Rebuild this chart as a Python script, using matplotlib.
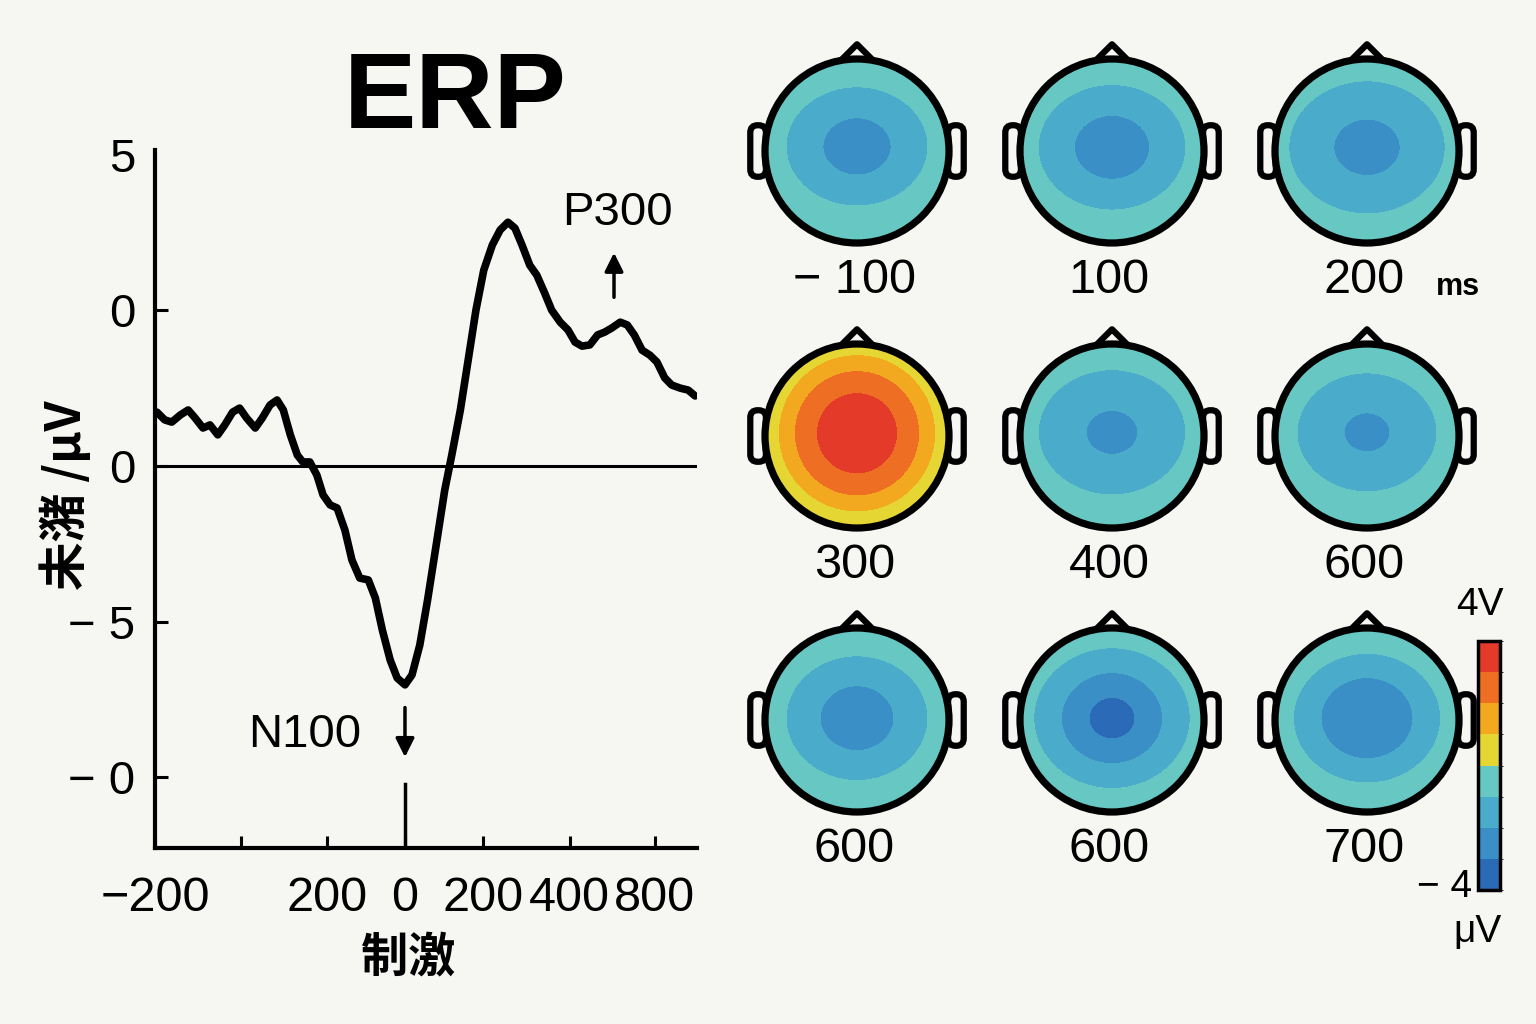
import matplotlib
matplotlib.use('Agg')
import matplotlib.pyplot as plt
import numpy as np
from matplotlib.colors import ListedColormap, BoundaryNorm
from matplotlib.patches import Circle, Polygon, FancyBboxPatch
from matplotlib.cm import ScalarMappable

# ERP waveform (ms, uV)
erp_ms = [-318, -308, -299, -288, -278, -269, -259, -250, -240, -231, -221, -212,
          -203, -192, -183, -173, -164, -156, -147, -138, -131, -122, -113, -105,
          -96, -87, -77, -68, -58, -47, -38, -29, -19, -10, 0, 9, 19, 29, 40, 51,
          60, 71, 81, 91, 101, 112, 122, 132, 141, 150, 160, 169, 179, 188, 199,
          209, 218, 227, 237, 247, 256, 265, 276, 285, 294, 304, 314, 323, 333,
          342, 353, 363, 372]
erp_uv = [1.73, 1.48, 1.41, 1.64, 1.80, 1.54, 1.22, 1.32, 1.00, 1.32, 1.73, 1.86,
          1.54, 1.22, 1.54, 1.96, 2.12, 1.80, 1.00, 0.35, 0.13, 0.13, -0.29, -0.93,
          -1.25, -1.35, -2.06, -3.02, -3.60, -3.66, -4.24, -5.27, -6.23, -6.81,
          -7.03, -6.71, -5.75, -4.30, -2.54, -0.77, 0.35, 1.80, 3.40, 5.01, 6.29,
          7.10, 7.58, 7.83, 7.64, 7.10, 6.45, 6.13, 5.56, 5.01, 4.62, 4.37, 3.98,
          3.85, 3.89, 4.21, 4.30, 4.43, 4.62, 4.53, 4.21, 3.72, 3.56, 3.34, 2.83,
          2.60, 2.50, 2.44, 2.25]

x_tick_pos = [-320, -210, -100, 0, 100, 211, 320]
x_tick_lab = ['−200', '', '200', '0', '200', '400', '800']
y_tick_pos = [10, 5, 0, -5, -10]
y_tick_lab = ['5', '0', '0', '− 5', '− 0']

# scalp maps: label and shape of the potential field
topo_labels = ['− 100', '100', '200', '300', '400', '600', '600', '600', '700']
topo_peak = [-2.30, -2.35, -2.22, 3.70, -2.14, -2.12, -2.37, -3.83, -2.64]
topo_slope = [2.19, 2.10, 1.69, -3.80, 1.78, 1.94, 2.31, 3.33, 2.56]
topo_power = [2, 2, 2, 2, 2, 2, 2, 1, 2]
topo_edge = [-0.4, -0.4, -0.4, 0.5, -0.4, -0.4, -0.4, -0.4, -0.4]
topo_aspect = [0.84, 0.85, 0.85, 1.0, 0.85, 0.85, 0.88, 0.9, 0.88]
topo_shift = [0.05, 0.04, 0.04, 0.03, 0.04, 0.04, 0.02, 0.02, 0.02]

band_edges = [-4, -3, -2, -1, 0, 1, 2, 3, 4]
band_colors = ['#2b6ab6', '#3a8fc6', '#4aabca', '#67c7c3',
               '#e6d634', '#f2a91f', '#ee6f24', '#e43a2a']

bg = '#f6f6f2'
LAT = ['Liberation Sans', 'DejaVu Sans']
CJK = ['Noto Sans CJK SC', 'DejaVu Sans']
plt.rcParams['font.family'] = LAT

fig = plt.figure(figsize=(15.36, 10.24), dpi=100, facecolor=bg)
W, H = 1536, 1024

# ---- ERP panel ----
ax = fig.add_axes([155 / W, 176 / H, 542 / W, 698 / H])
ax.set_facecolor(bg)
ax.plot(erp_ms, erp_uv, color='k', lw=5.5, solid_joinstyle='round', solid_capstyle='round')
ax.axhline(0, color='k', lw=2.2)
ax.plot([0, 0], [-12.3, -10.2], color='k', lw=2.5)
ax.set_xlim(-320.5, 374.4)
ax.set_ylim(-12.27, 10.15)
ax.set_xticks(x_tick_pos, x_tick_lab)
ax.set_yticks(y_tick_pos, y_tick_lab)
for s in ['top', 'right']:
    ax.spines[s].set_visible(False)
for s in ['left', 'bottom']:
    ax.spines[s].set_linewidth(3)
ax.tick_params(direction='in', length=9, width=2.2, labelsize=34, pad=14)
ax.tick_params(axis='x', pad=20, labelsize=35)
ax.yaxis.get_major_ticks()[0].tick1line.set_visible(False)

ax.annotate('', xy=(268, 6.94), xytext=(268, 5.33),
            arrowprops=dict(arrowstyle='-|>', lw=2.5, color='k', mutation_scale=28))
ax.text(273, 8.12, 'P300', fontsize=34, ha='center', va='center')
ax.annotate('', xy=(0, -9.44), xytext=(0, -7.67),
            arrowprops=dict(arrowstyle='-|>', lw=2.5, color='k', mutation_scale=28))
ax.text(-129, -8.64, 'N100', fontsize=34, ha='center', va='center')

fig.text(455 / W, 1 - 100 / H, 'ERP', fontsize=78, fontweight='bold', ha='center', va='center')
fig.text(65 / W, 1 - 495 / H, '未潴 /μV', fontsize=35, fontweight='bold', rotation=90,
         ha='center', va='center', family=CJK)
fig.text(408 / W, 1 - 957 / H, '制激', fontsize=34, fontweight='bold',
         ha='center', va='center', family=CJK)

# ---- scalp maps ----
cmap = ListedColormap(band_colors)
norm = BoundaryNorm(band_edges, cmap.N)
col_x = [857, 1112, 1367]
row_y = [151, 436, 720]
R = 92
gx, gy = np.meshgrid(np.linspace(-1, 1, 301), np.linspace(-1, 1, 301))

for i, lab in enumerate(topo_labels):
    cx, cy = col_x[i % 3], row_y[i // 3]
    tax = fig.add_axes([(cx - 1.25 * R) / W, 1 - (cy + 1.25 * R) / H, 2.5 * R / W, 2.5 * R / H])
    tax.set_xlim(-1.25, 1.25)
    tax.set_ylim(-1.25, 1.25)
    tax.axis('off')
    r = np.sqrt(gx ** 2 + ((gy - topo_shift[i]) / topo_aspect[i]) ** 2)
    field = topo_peak[i] + topo_slope[i] * r ** topo_power[i]
    lo, hi = sorted([topo_peak[i], topo_edge[i]])
    field = np.clip(field, max(lo, -3.99), min(hi, 3.99))
    cf = tax.contourf(gx, gy, field, levels=band_edges, cmap=cmap, norm=norm, zorder=2)
    cf.set_clip_path(Circle((0, 0), 1, transform=tax.transData))
    for sx in (-1, 1):
        x0 = -1.16 if sx < 0 else 0.99
        tax.add_patch(FancyBboxPatch((x0, -0.28), 0.17, 0.56,
                                     boxstyle='round,pad=0,rounding_size=0.08',
                                     fc=bg, ec='k', lw=4.5, zorder=1))
    tax.add_patch(Polygon([[-0.2, 0.96], [0, 1.16], [0.2, 0.96]], closed=True,
                          fc=bg, ec='k', lw=4.5, joinstyle='round', zorder=1))
    tax.add_patch(Circle((0, 0), 1, fill=False, ec='k', lw=5.2, zorder=5))
    tax.text(-0.03, -1.41, lab, fontsize=35, ha='center', va='center')

fig.text(1458 / W, 1 - 287 / H, 'ms', fontsize=22, fontweight='bold', ha='center', va='center')

# ---- colour bar ----
cax = fig.add_axes([1478 / W, (H - 890) / H, 22 / W, 249 / H])
cb = fig.colorbar(ScalarMappable(norm=norm, cmap=cmap), cax=cax)
cb.set_ticks([])
cb.outline.set_linewidth(2.5)
fig.text(1480 / W, 1 - 605 / H, '4V', fontsize=28, ha='center', va='center')
fig.text(1445 / W, 1 - 887 / H, '− 4', fontsize=28, ha='center', va='center')
fig.text(1478 / W, 1 - 932 / H, 'μV', fontsize=28, ha='center', va='center')

fig.savefig('out.png', dpi=100, facecolor=bg)
